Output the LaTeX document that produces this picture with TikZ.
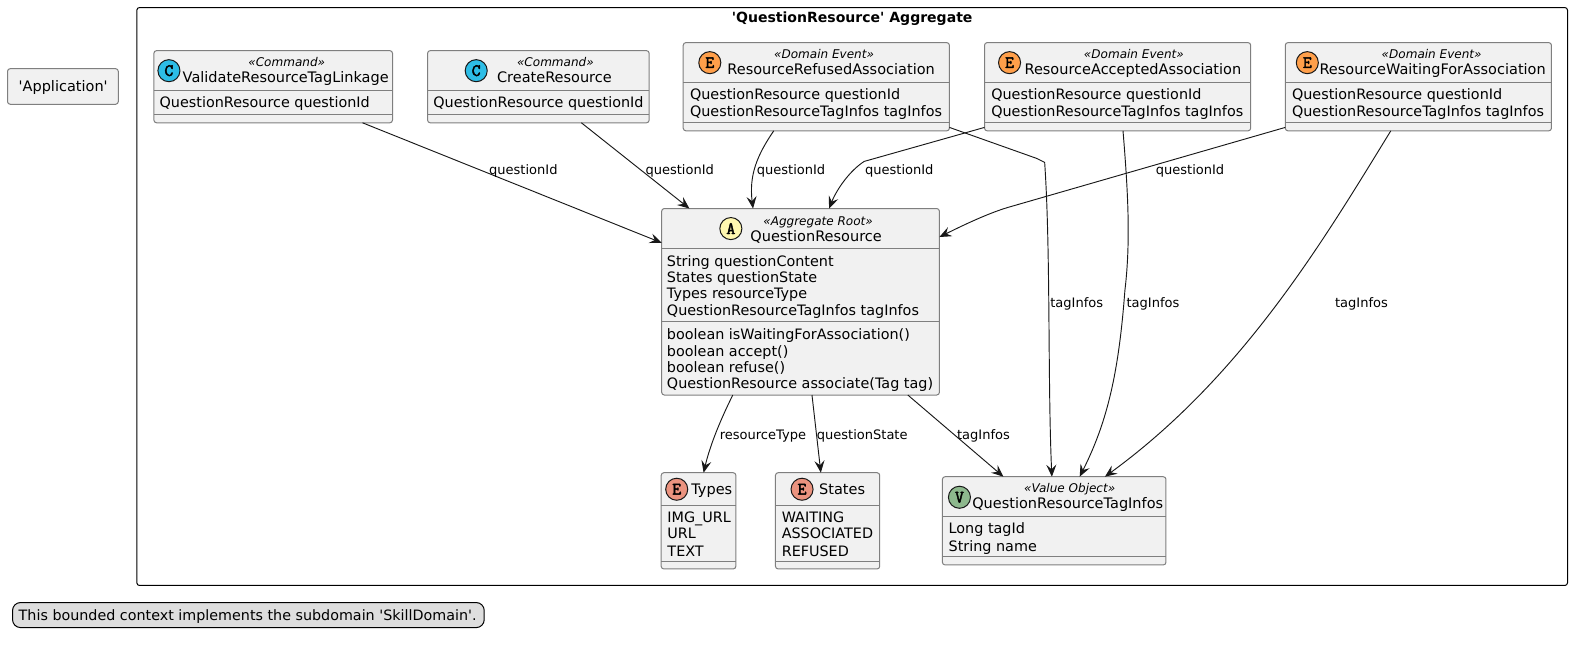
\documentclass[tikz,border=0pt]{standalone}
\usepackage{fontspec}
\setmainfont{DejaVu Sans}[Ligatures=TeXOff]
\newfontfamily\spotfont{Latin Modern Mono}[FakeBold=2.5]
\usetikzlibrary{arrows.meta,fit}

\definecolor{boxgray}{HTML}{F1F1F1}
\definecolor{linegray}{HTML}{7F7F7F}
\definecolor{darkline}{HTML}{181818}
\definecolor{commandcol}{HTML}{2DBDE6}
\definecolor{eventcol}{HTML}{FF9F4A}
\definecolor{rootcol}{HTML}{FFF7B0}
\definecolor{valuecol}{HTML}{8DB88D}
\definecolor{enumcol}{HTML}{EB937F}

\tikzset{
  umlbox/.style={draw=linegray,fill=boxgray,line width=0.75pt,rounded corners=2pt,inner sep=0pt,outer sep=0pt},
  sepline/.style={draw=linegray,line width=0.75pt},
  spot/.style={circle,draw=darkline,line width=0.75pt,minimum size=16.5pt,inner sep=0pt,font=\spotfont\fontsize{13pt}{14pt}\selectfont},
  stereo/.style={inner sep=0pt,font=\itshape\fontsize{9pt}{11pt}\selectfont,text height=9pt,text depth=2pt},
  classname/.style={inner sep=0pt,font=\fontsize{10.85pt}{12pt}\selectfont,text height=10pt,text depth=1.6pt},
  member/.style={classname,anchor=west,font=\fontsize{10.75pt}{12pt}\selectfont},
  edgelabel/.style={inner sep=0pt,font=\fontsize{9.75pt}{12pt}\selectfont,text height=10pt,text depth=2pt},
  link/.style={draw=darkline,line width=0.7pt,-{Stealth[length=9pt,width=7.5pt,inset=3.4pt]}}
}

\begin{document}
\begin{tikzpicture}[x=0.75pt,y=-0.75pt]
  \useasboundingbox (0,0) rectangle (1568,645.4);

  \node[draw=black,line width=0.75pt,rounded corners=2pt,inner sep=0pt,fit={(136.5,7.5) (1563.5,584)}] (aggregate) {};
  \node[classname,font=\bfseries\fontsize{10.5pt}{12pt}\selectfont] (aggregatetitle) at (850,17) {'QuestionResource' Aggregate};

  \node[umlbox,fit={(7.5,68.5) (118,104)}] (application) {};
  \node[classname] (applicationname) at (63,86) {'Application'};

  % commands
  \node[umlbox,fit={(153.5,50.5) (391.5,122.5)}] (validate) {};
  \draw[sepline] (validate.west |- 0,90.5) -- (validate.east |- 0,90.5);
  \draw[sepline] (validate.west |- 0,114.5) -- (validate.east |- 0,114.5);
  \node[spot,fill=commandcol] (validatespot) at (168.5,70.5) {C};
  \node[stereo] (validatestereo) at (286,62) {«Command»};
  \node[classname] (validatename) at (285,77) {ValidateResourceTagLinkage};
  \node[member] (validatefield) at (159,102) {QuestionResource questionId};

  \node[umlbox,fit={(426.5,50.5) (647.5,122.5)}] (create) {};
  \draw[sepline] (create.west |- 0,90.5) -- (create.east |- 0,90.5);
  \draw[sepline] (create.west |- 0,114.5) -- (create.east |- 0,114.5);
  \node[spot,fill=commandcol] (createspot) at (475,70.5) {C};
  \node[stereo] (createstereo) at (554,62) {«Command»};
  \node[classname] (createname) at (553,77) {CreateResource};
  \node[member] (createfield) at (432,102) {QuestionResource questionId};

  % domain events
  \node[umlbox,fit={(681.5,42.5) (947,130.5)}] (refused) {};
  \draw[sepline] (refused.west |- 0,82.5) -- (refused.east |- 0,82.5);
  \draw[sepline] (refused.west |- 0,122.5) -- (refused.east |- 0,122.5);
  \node[spot,fill=eventcol] (refusedspot) at (708,62.5) {E};
  \node[stereo] (refusedstereo) at (822,54) {«Domain Event»};
  \node[classname] (refusedname) at (829,69) {ResourceRefusedAssociation};
  \node[member] (refusedfieldone) at (688,94) {QuestionResource questionId};
  \node[member] (refusedfieldtwo) at (688,110.5) {QuestionResourceTagInfos tagInfos};

  \node[umlbox,fit={(982,42.5) (1247.5,130.5)}] (accepted) {};
  \draw[sepline] (accepted.west |- 0,82.5) -- (accepted.east |- 0,82.5);
  \draw[sepline] (accepted.west |- 0,122.5) -- (accepted.east |- 0,122.5);
  \node[spot,fill=eventcol] (acceptedspot) at (1007,62.5) {E};
  \node[stereo] (acceptedstereo) at (1131,54) {«Domain Event»};
  \node[classname] (acceptedname) at (1130,69) {ResourceAcceptedAssociation};
  \node[member] (acceptedfieldone) at (988.5,94) {QuestionResource questionId};
  \node[member] (acceptedfieldtwo) at (988.5,110.5) {QuestionResourceTagInfos tagInfos};

  \node[umlbox,fit={(1282,42.5) (1547.5,130.5)}] (waiting) {};
  \draw[sepline] (waiting.west |- 0,82.5) -- (waiting.east |- 0,82.5);
  \draw[sepline] (waiting.west |- 0,122.5) -- (waiting.east |- 0,122.5);
  \node[spot,fill=eventcol] (waitingspot) at (1304,62.5) {E};
  \node[stereo] (waitingstereo) at (1428,54) {«Domain Event»};
  \node[classname] (waitingname) at (1429,69) {ResourceWaitingForAssociation};
  \node[member] (waitingfieldone) at (1288.5,94) {QuestionResource questionId};
  \node[member] (waitingfieldtwo) at (1288.5,110.5) {QuestionResourceTagInfos tagInfos};

  % aggregate root
  \node[umlbox,fit={(660,208) (937,394)}] (root) {};
  \draw[sepline] (root.west |- 0,248) -- (root.east |- 0,248);
  \draw[sepline] (root.west |- 0,321) -- (root.east |- 0,321);
  \node[spot,fill=rootcol] (rootspot) at (729,228) {A};
  \node[stereo] (rootstereo) at (816,220) {«Aggregate Root»};
  \node[classname] (rootname) at (814,235) {QuestionResource};
  \node[member] (rootfieldone) at (665,260) {String questionContent};
  \node[member] (rootfieldtwo) at (665,276.5) {States questionState};
  \node[member] (rootfieldthree) at (665,292.5) {Types resourceType};
  \node[member] (rootfieldfour) at (665,309) {QuestionResourceTagInfos tagInfos};
  \node[member] (rootmethodone) at (665,333) {boolean isWaitingForAssociation()};
  \node[member] (rootmethodtwo) at (665,349.5) {boolean accept()};
  \node[member] (rootmethodthree) at (665,365.5) {boolean refuse()};
  \node[member] (rootmethodfour) at (665,382) {QuestionResource associate(Tag tag)};

  % enums and value object
  \node[umlbox,fit={(659.5,471.5) (734,567.5)}] (types) {};
  \draw[sepline] (types.west |- 0,504) -- (types.east |- 0,504);
  \draw[sepline] (types.west |- 0,560) -- (types.east |- 0,560);
  \node[spot,fill=enumcol] (typesspot) at (675,488) {E};
  \node[classname] (typesname) at (710,488) {Types};
  \node[member] (typesone) at (665.5,516) {IMG\_URL};
  \node[member] (typestwo) at (665.5,532) {URL};
  \node[member] (typesthree) at (665.5,549) {TEXT};

  \node[umlbox,fit={(773.5,471.5) (877.5,567.5)}] (states) {};
  \draw[sepline] (states.west |- 0,504) -- (states.east |- 0,504);
  \draw[sepline] (states.west |- 0,560) -- (states.east |- 0,560);
  \node[spot,fill=enumcol] (statesspot) at (800,488) {E};
  \node[classname] (statesname) at (840,488) {States};
  \node[member] (statesone) at (779.5,516) {WAITING};
  \node[member] (statestwo) at (779.5,532) {ASSOCIATED};
  \node[member] (statesthree) at (779.5,549) {REFUSED};

  \node[umlbox,fit={(940,475.5) (1163,563.5)}] (taginfos) {};
  \draw[sepline] (taginfos.west |- 0,515.5) -- (taginfos.east |- 0,515.5);
  \draw[sepline] (taginfos.west |- 0,555.5) -- (taginfos.east |- 0,555.5);
  \node[spot,fill=valuecol] (taginfosspot) at (957,496) {V};
  \node[stereo] (taginfosstereo) at (1067,487) {«Value Object»};
  \node[classname] (taginfosname) at (1065,502) {QuestionResourceTagInfos};
  \node[member] (taginfosone) at (946,527) {Long tagId};
  \node[member] (taginfostwo) at (946,544) {String name};

  % connectors
  \coordinate (acceptedbend) at (862,161);
  \coordinate (waitingbend) at (1005,207);
  \coordinate (refusedbend) at (1042,162);
  \draw[link] (validate.-22.6) -- (root.157.3);
  \draw[link] (create.-40.3) -- (root.140.9);
  \draw[link] (refused.-134) .. controls (755,155) and (747,175) .. (root.117.1);
  \draw[link] (accepted.-163.5) -- (acceptedbend) .. controls (848,170) and (835,188) .. (root.73.5);
  \draw[link] (waiting.-163.4) -- (waitingbend) .. controls (985,213) and (960,225) .. (root.25.8);
  \draw[link] (refused.-17) -- (1034,158) -- (refusedbend) .. controls (1048,250) and (1045,380) .. (taginfos.93.3);
  \draw[link] (accepted.-83.5) .. controls (1125,190) and (1128,240) .. (1122,290) .. controls (1116,370) and (1105,420) .. (taginfos.60.9);
  \draw[link] (waiting.-122) .. controls (1320,240) and (1240,375) .. (taginfos.41.1);
  \draw[link] (root.-126) .. controls (718,420) and (708,445) .. (types.84.6);
  \draw[link] (root.-83.6) -- (states.98.3);
  \draw[link] (root.-41.1) -- (taginfos.139.5);

  % connector labels
  \node[edgelabel] (labelvalidate) at (522,169) {questionId};
  \node[edgelabel] (labelcreate) at (678,169) {questionId};
  \node[edgelabel] (labelrefused) at (789,169) {questionId};
  \node[edgelabel] (labelaccepted) at (897,169) {questionId};
  \node[edgelabel] (labelwaiting) at (1187,169) {questionId};
  \node[edgelabel] (labelrefusedtag) at (1074,301) {tagInfos};
  \node[edgelabel] (labelacceptedtag) at (1150,301) {tagInfos};
  \node[edgelabel] (labelwaitingtag) at (1358,301) {tagInfos};
  \node[edgelabel] (labeltype) at (761,433) {resourceType};
  \node[edgelabel] (labelstate) at (860,433) {questionState};
  \node[edgelabel] (labelroottag) at (981,433) {tagInfos};

  % note
  \node[draw=black,fill=black!13,line width=0.75pt,rounded corners=6pt,inner sep=0pt,fit={(12.5,601) (483,626)}] (subdomainnote) {};
  \node[classname,font=\fontsize{10.7pt}{12pt}\selectfont] (subdomaintext) at (247,613.5) {This bounded context implements the subdomain 'SkillDomain'.};
\end{tikzpicture}
\end{document}
